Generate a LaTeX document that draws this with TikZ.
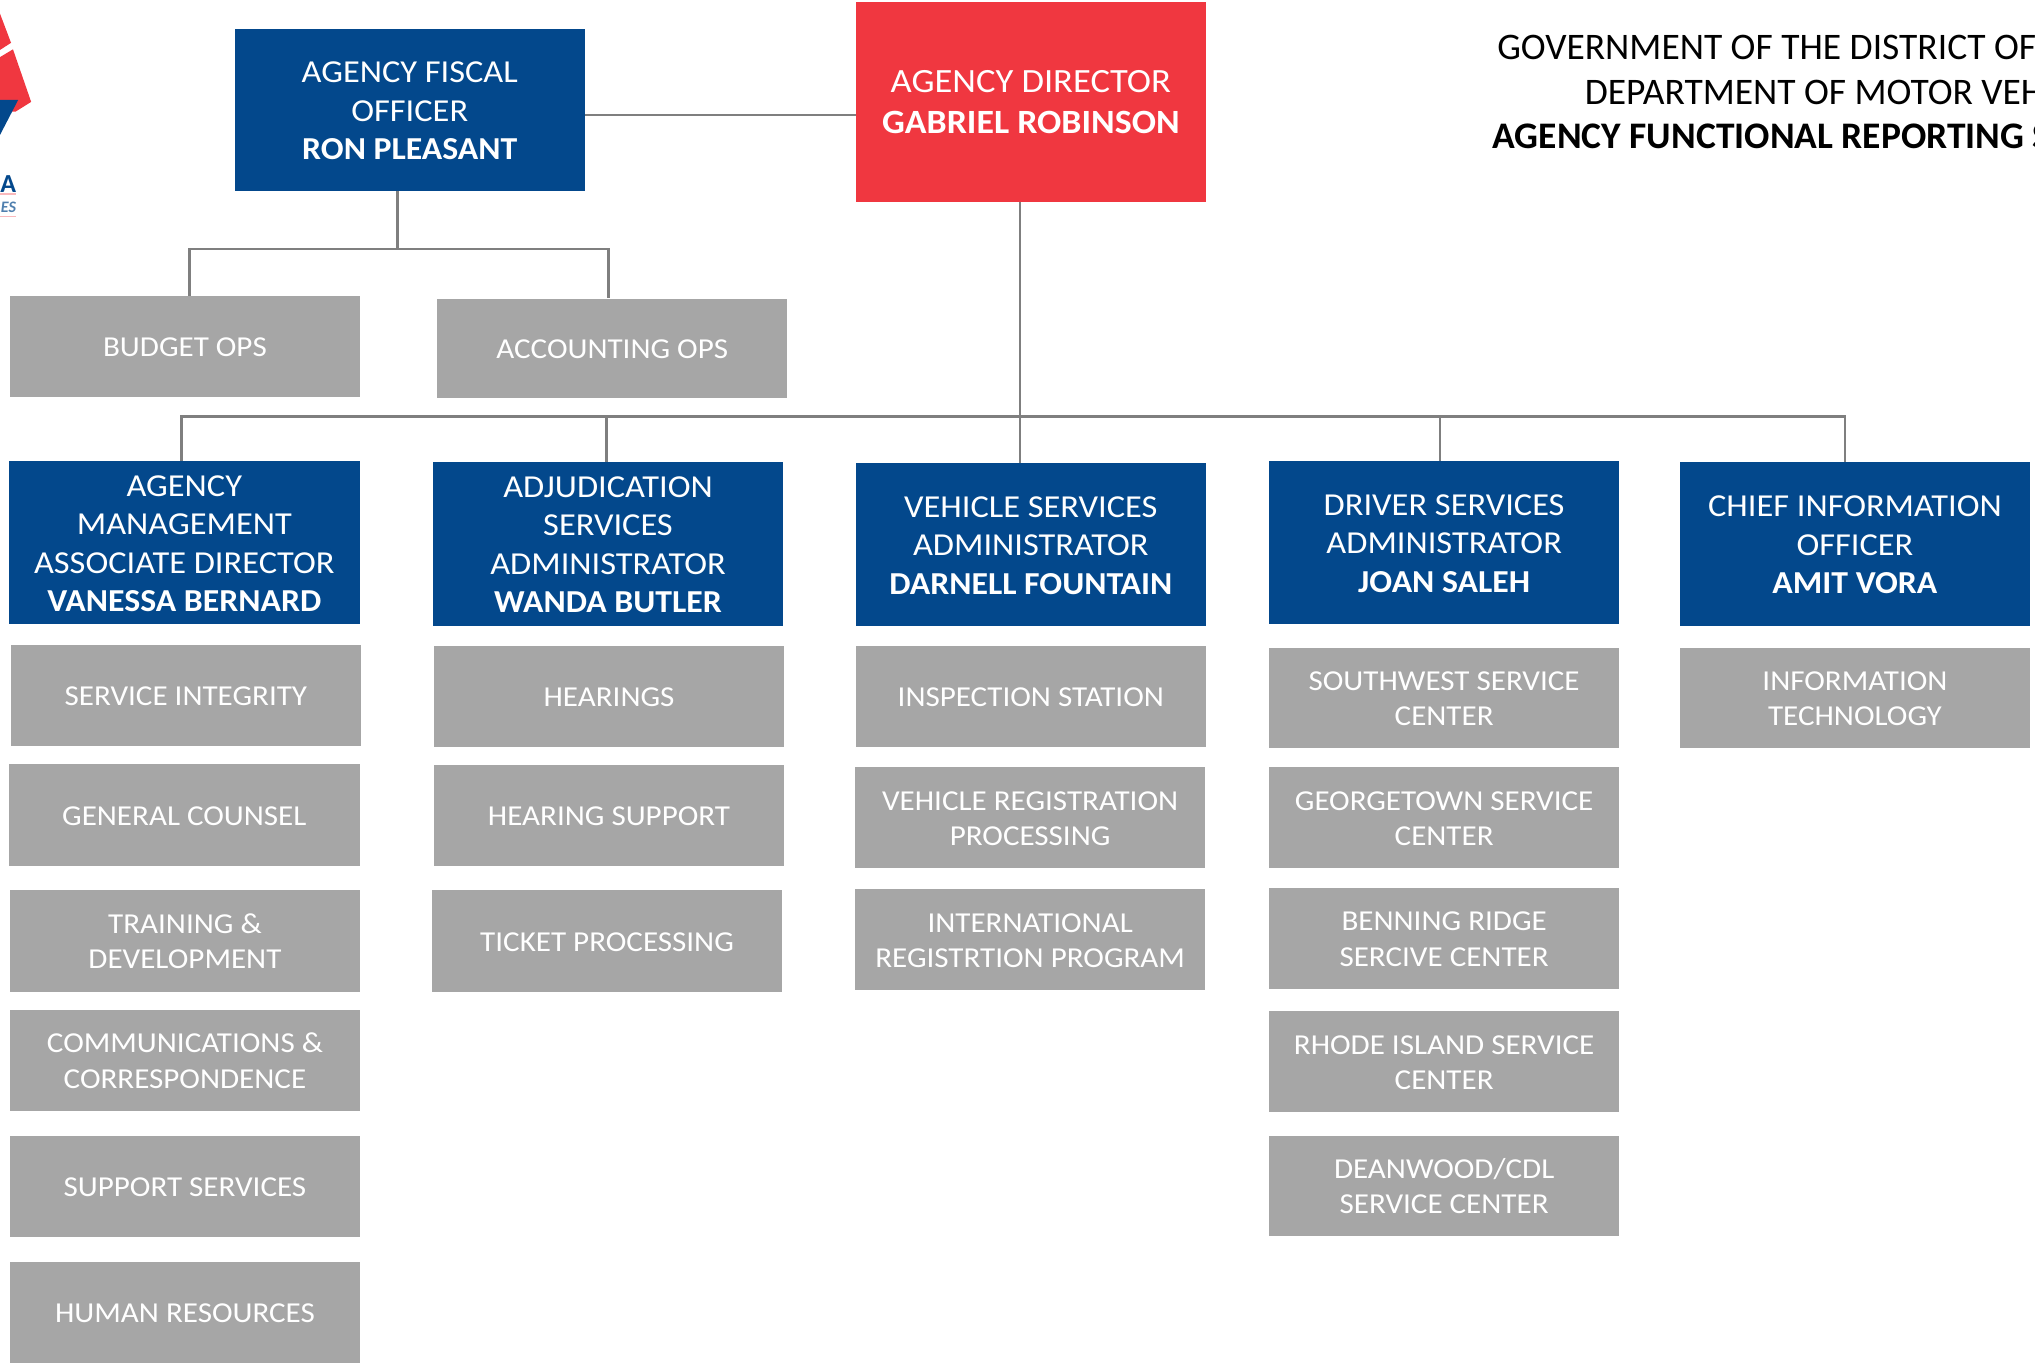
\documentclass[tikz,border=0pt]{standalone}
\usepackage{fontspec}
\setmainfont{Carlito}[UprightFeatures={FakeStretch=1.075},BoldFeatures={FakeStretch=1.055}]
\newfontfamily\ttlfont{Carlito}
\definecolor{dblue}{HTML}{03488C}
\definecolor{dred}{HTML}{F03740}
\definecolor{dgray}{HTML}{A6A6A6}
\definecolor{lnk}{HTML}{7F7F7F}
\tikzset{
 boss/.style={fill=dblue,text=white,font=\fontsize{32}{38.5}\selectfont,align=center,inner sep=0pt},
 chief/.style={fill=dred,text=white,font=\fontsize{34}{41}\selectfont,align=center,inner sep=0pt},
 unit/.style={fill=dgray,text=white,font=\fontsize{28.9}{35.5}\selectfont,align=center,inner sep=0pt},
 link/.style={draw=lnk,line width=2.6pt},
 ttl/.style={anchor=base west,inner sep=0pt,font=\ttlfont\fontsize{37.5}{45}\selectfont,text=black}
}
\newcommand{\nudge}{\rule{0pt}{0.72em}}
\newcommand{\bx}[7]{\node[#2,minimum width={(#5-#3)*1.2978pt},minimum height={(#6-#4)*1.2978pt}] (#1) at ({(#3+#5)/2},{(#4+#6)/2}) {#7};}
\begin{document}
\begin{tikzpicture}[x=1.2978pt,y=-1.2978pt]
\useasboundingbox (0,0) rectangle (1568,1054);
% logo
\fill[dred] (0,10.5) -- (8.5,33) -- (0,38.5) -- cycle;
\fill[dred] (0,44) -- (10,38) -- (24,78.5) -- (12,86) -- (0,86) -- cycle;
\fill[dblue] (0,77) -- (14,77) -- (0,104) -- cycle;
\node[inner sep=0pt,anchor=base east,text=dblue,font=\ttlfont\fontsize{26}{26}\selectfont\bfseries] (logoa) at (12.5,148) {A};
\node[inner sep=0pt,anchor=base east,text=dblue!70,font=\ttlfont\fontsize{16}{16}\selectfont\bfseries\itshape] (logob) at (12.5,163.5) {ES};
\fill[dred!35] (0,149) rectangle (12,150);
\fill[dred!35] (0,166.5) rectangle (12,167.5);
% titles
\node[ttl] (t1) at (1153.5,45.8) {GOVERNMENT OF THE DISTRICT OF};
\node[ttl] (t2) at (1221,80.3) {DEPARTMENT OF MOTOR VEH};
\node[ttl,font=\ttlfont\fontsize{37.5}{45}\selectfont\bfseries] (t3) at (1150,114.8) {AGENCY FUNCTIONAL REPORTING S};
% top boxes
\bx{fiscal}{boss}{181}{22}{450.5}{147}{\nudge AGENCY FISCAL\\OFFICER\\\textbf{RON PLEASANT}}
\bx{dir}{chief}{659.5}{1.5}{929}{155.5}{AGENCY DIRECTOR\\\textbf{GABRIEL ROBINSON}}
\bx{budget}{unit}{8}{228}{277}{306}{\nudge BUDGET OPS}
\bx{acct}{unit}{337}{230}{606.5}{307}{\nudge ACCOUNTING OPS}
% column 1
\bx{c1}{boss}{7}{355}{277}{481}{\nudge AGENCY\\MANAGEMENT\\ASSOCIATE DIRECTOR\\\textbf{VANESSA BERNARD}}
\bx{c1a}{unit}{8.5}{497}{278}{575}{\nudge SERVICE INTEGRITY}
\bx{c1b}{unit}{7}{589}{277}{667}{\nudge GENERAL COUNSEL}
\bx{c1c}{unit}{8}{686}{277}{764}{\nudge TRAINING \&\\DEVELOPMENT}
\bx{c1d}{unit}{8}{778}{277}{856}{\nudge COMMUNICATIONS \&\\CORRESPONDENCE}
\bx{c1e}{unit}{8}{875}{277}{953}{\nudge SUPPORT SERVICES}
\bx{c1f}{unit}{8}{972}{277}{1050}{\nudge HUMAN RESOURCES}
% column 2
\bx{c2}{boss}{334}{356}{603}{482}{\nudge ADJUDICATION\\SERVICES\\ADMINISTRATOR\\\textbf{WANDA BUTLER}}
\bx{c2a}{unit}{334.5}{498}{604}{575.5}{\nudge HEARINGS}
\bx{c2b}{unit}{334.5}{589.5}{604}{667}{\nudge HEARING SUPPORT}
\bx{c2c}{unit}{333}{686}{602.5}{764}{\nudge TICKET PROCESSING}
% column 3
\bx{c3}{boss}{659.5}{357}{929}{482}{\nudge VEHICLE SERVICES\\ADMINISTRATOR\\\textbf{DARNELL FOUNTAIN}}
\bx{c3a}{unit}{659.5}{498}{929}{575.5}{\nudge INSPECTION STATION}
\bx{c3b}{unit}{659}{591}{928.5}{669}{\nudge VEHICLE REGISTRATION\\PROCESSING}
\bx{c3c}{unit}{659}{685}{928.5}{763}{\nudge INTERNATIONAL\\REGISTRTION PROGRAM}
% column 4
\bx{c4}{boss}{978}{355}{1247.5}{481}{\nudge DRIVER SERVICES\\ADMINISTRATOR\\\textbf{JOAN SALEH}}
\bx{c4a}{unit}{978}{499}{1247.5}{576}{\nudge SOUTHWEST SERVICE\\CENTER}
\bx{c4b}{unit}{978}{591}{1247.5}{669}{\nudge GEORGETOWN SERVICE\\CENTER}
\bx{c4c}{unit}{978}{684}{1247.5}{762}{\nudge BENNING RIDGE\\SERCIVE CENTER}
\bx{c4d}{unit}{978}{779}{1247.5}{857}{\nudge RHODE ISLAND SERVICE\\CENTER}
\bx{c4e}{unit}{978}{875}{1247.5}{952}{\nudge DEANWOOD/CDL\\SERVICE CENTER}
% column 5
\bx{c5}{boss}{1294.5}{356}{1564}{482}{\nudge CHIEF INFORMATION\\OFFICER\\\textbf{AMIT VORA}}
\bx{c5a}{unit}{1294.5}{499}{1564}{576}{\nudge INFORMATION\\TECHNOLOGY}
% connectors
\coordinate (fo) at (306.5,147);
\coordinate (fbus) at (306.5,192);
\coordinate (fl) at (146,192);
\coordinate (fr) at (469,192);
\coordinate (bus) at (786,321);
\coordinate (b1) at (140,321);
\coordinate (b2) at (467.5,321);
\coordinate (b4) at (1109.5,321);
\coordinate (b5) at (1421.5,321);
\draw[link] (fiscal.east |- 0,88.5) -- (dir.west |- 0,88.5);
\draw[link] (fo) -- (fbus);
\draw[link] (budget.north -| fl) -- (fl) -- (fr) -- (acct.north -| fr);
\draw[link] (dir.south -| bus) -- (c3.north -| bus);
\draw[link] (c1.north -| b1) -- (b1) -- (b5) -- (c5.north -| b5);
\draw[link] (b2) -- (c2.north -| b2);
\draw[link] (b4) -- (c4.north -| b4);
\end{tikzpicture}
\end{document}
